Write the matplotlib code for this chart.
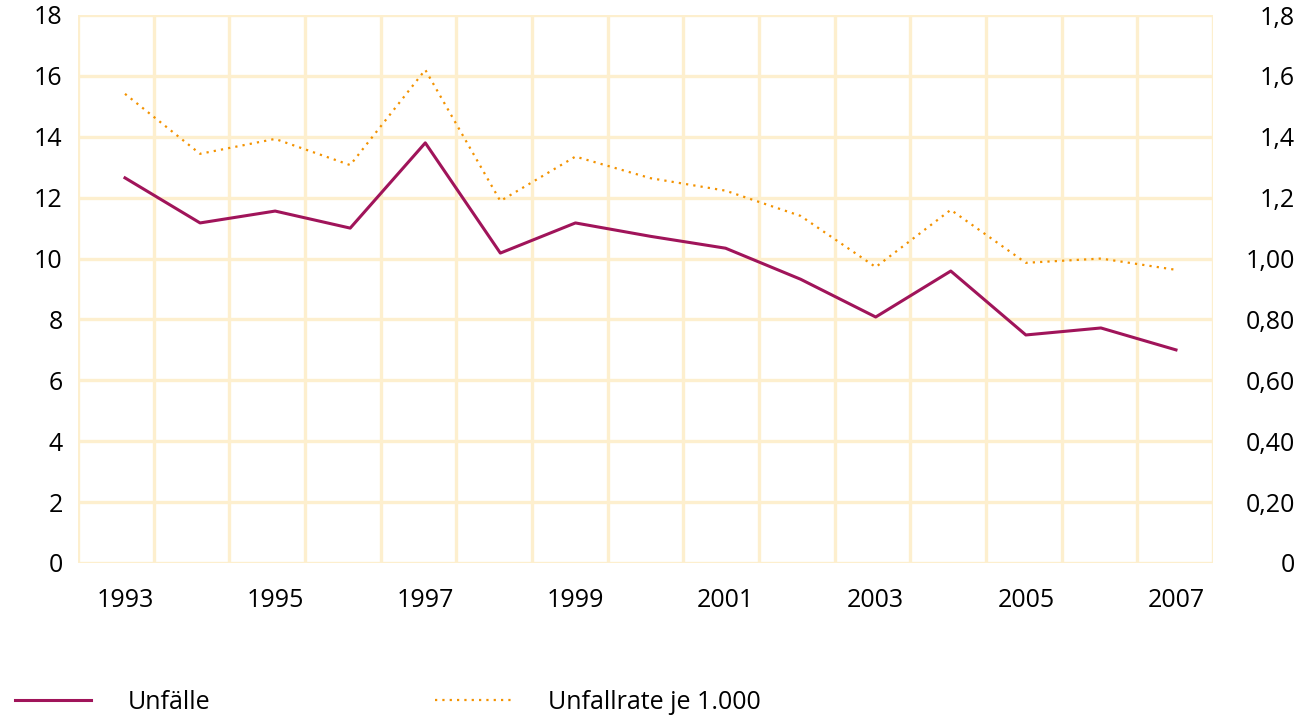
import numpy as np
import matplotlib
matplotlib.use('Agg')
from matplotlib import pyplot as plt

plt.rcParams['font.family'] = ['Open Sans', 'DejaVu Sans']

years = [1993, 1994, 1995, 1996, 1997, 1998, 1999, 2000,
         2001, 2002, 2003, 2004, 2005, 2006, 2007]
unfaelle = [12.65, 11.17, 11.56, 11.0, 13.8, 10.18, 11.17, 10.73,
            10.34, 9.32, 8.08, 9.59, 7.49, 7.72, 7.0]
unfallrate = [1.541, 1.344, 1.393, 1.307, 1.62, 1.189, 1.335, 1.264,
              1.223, 1.14, 0.972, 1.16, 0.986, 1.0, 0.963]
year_ticks = [1993, 1995, 1997, 1999, 2001, 2003, 2005, 2007]
left_ticks = list(range(0, 19, 2))
right_ticks = [0, 0.2, 0.4, 0.6, 0.8, 1.0, 1.2, 1.4, 1.6, 1.8]
right_labels = ['0', '0,20', '0,40', '0,60', '0,80', '1,00', '1,2', '1,4', '1,6', '1,8']

purple = '#A0145A'
orange = '#F39200'
grid = '#FDEFCE'

fig = plt.figure(figsize=(13.11, 7.15), dpi=100)
ax = fig.add_axes([78 / 1311, 1 - 563 / 715, (1213 - 78) / 1311, (563 - 15) / 715])
ax2 = ax.twinx()

xmin, xmax = 1992.374, 2007.493
ax.set_xlim(xmin, xmax)
ax.set_ylim(0, 18)
ax2.set_ylim(0, 1.8)

# grid: horizontal every 2, vertical at band edges
for y in left_ticks:
    ax.axhline(y, color=grid, lw=2.4, zorder=0)
for x in np.linspace(xmin, xmax, 16):
    ax.axvline(x, color=grid, lw=2.4, zorder=0)

for a in (ax, ax2):
    for s in a.spines.values():
        s.set_visible(False)

l1, = ax.plot(years, unfaelle, color=purple, lw=2.2, zorder=3, label='Unfälle')
l2, = ax2.plot(years, unfallrate, color=orange, lw=1.6, linestyle=(0, (1, 2.3)),
               zorder=3, label='Unfallrate je 1.000')

ax.set_xticks(year_ticks)
ax.set_xticklabels([str(y) for y in year_ticks])
ax.set_yticks(left_ticks)
ax.tick_params(axis='both', length=0, labelsize=18, colors='black')
ax.tick_params(axis='x', pad=18)
ax.tick_params(axis='y', pad=11)

ax2.set_yticks(right_ticks)
ax2.set_yticklabels(right_labels)
ax2.tick_params(axis='y', length=0, labelsize=18, pad=59)
for t in ax2.get_yticklabels():
    t.set_horizontalalignment('right')

fig.legend(handles=[l1, l2], loc='lower left', bbox_to_anchor=(15 / 1311, 0),
           ncol=2, frameon=False, fontsize=18, handlelength=3.04,
           handletextpad=1.48, columnspacing=8.97, borderpad=0, borderaxespad=0)

fig.savefig('out.png', dpi=100)
